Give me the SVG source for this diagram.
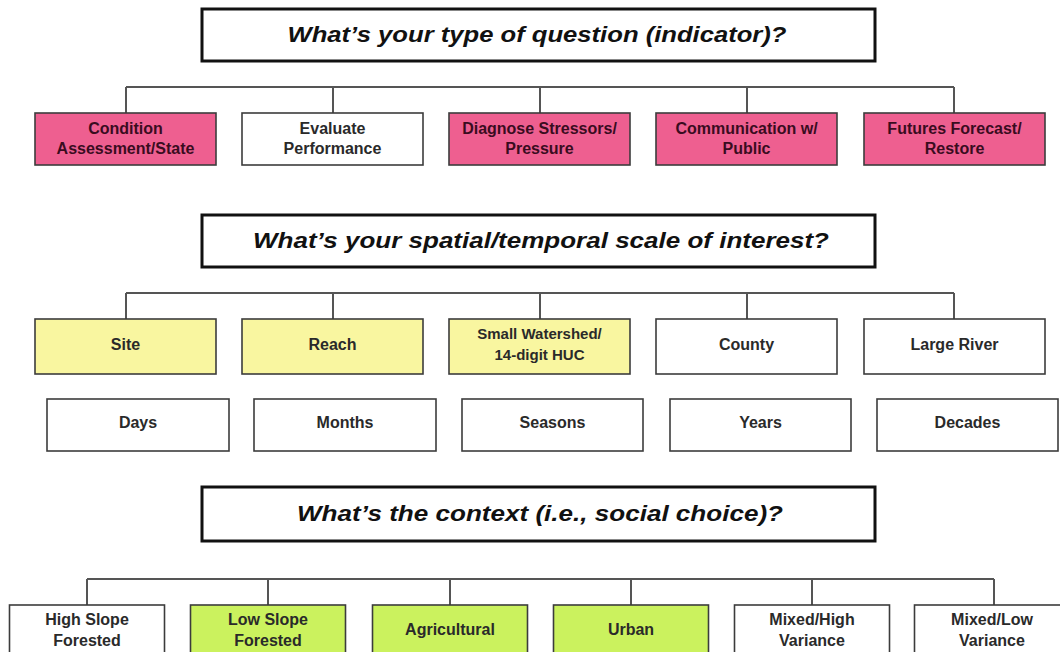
<svg xmlns="http://www.w3.org/2000/svg" width="1060" height="652" viewBox="0 0 1060 652">
<style>
.title rect{fill:#fff;stroke:#111;stroke-width:3}
.title text{font-family:"Liberation Sans",Arial,sans-serif;font-weight:bold;font-style:italic;font-size:22.5px;fill:#111;text-anchor:middle}
.box rect{stroke:#3c3c3c;stroke-width:1.6}
.box text{font-family:"Liberation Sans",Arial,sans-serif;font-weight:bold;font-size:16px;fill:#2a2a2a;text-anchor:middle}
.pink rect{fill:#EE5F90}
.pink text{fill:#3a0c1f}
.white rect{fill:#fff}
.yellow rect{fill:#F9F6A0}
.green rect{fill:#CBF25E}
.conn{fill:none;stroke:#555;stroke-width:2}
</style>
<rect width="1060" height="652" fill="#fff"/>

<g id="connectors" class="conn">
<path d="M126,87H954M126,87V113M333,87V113M540,87V113M747,87V113M954,87V113"/>
<path d="M126,293H954M126,293V319M333,293V319M540,293V319M747,293V319M954,293V319"/>
<path d="M87,579H994M87,579V605M268,579V605M450,579V605M631,579V605M812,579V605M994,579V605"/>
</g>

<g id="title1" class="title"><rect x="202" y="9" width="673" height="52"/><text x="537" y="42" textLength="499" lengthAdjust="spacingAndGlyphs">What’s your type of question (indicator)?</text></g>

<g id="q1" class="box pink"><rect x="35" y="113" width="181" height="52"/><text x="125.5" y="134">Condition</text><text x="125.5" y="154">Assessment/State</text></g>
<g id="q2" class="box white"><rect x="242" y="113" width="181" height="52"/><text x="332.5" y="134">Evaluate</text><text x="332.5" y="154">Performance</text></g>
<g id="q3" class="box pink"><rect x="449" y="113" width="181" height="52"/><text x="539.5" y="134">Diagnose Stressors/</text><text x="539.5" y="154">Pressure</text></g>
<g id="q4" class="box pink"><rect x="656" y="113" width="181" height="52"/><text x="746.5" y="134">Communication w/</text><text x="746.5" y="154">Public</text></g>
<g id="q5" class="box pink"><rect x="864" y="113" width="181" height="52"/><text x="954.5" y="134">Futures Forecast/</text><text x="954.5" y="154">Restore</text></g>

<g id="title2" class="title"><rect x="202" y="215" width="673" height="52"/><text x="541" y="248" textLength="576" lengthAdjust="spacingAndGlyphs">What’s your spatial/temporal scale of interest?</text></g>

<g id="s1" class="box yellow"><rect x="35" y="319" width="181" height="55"/><text x="125.5" y="350">Site</text></g>
<g id="s2" class="box yellow"><rect x="242" y="319" width="181" height="55"/><text x="332.5" y="350">Reach</text></g>
<g id="s3" class="box yellow"><rect x="449" y="319" width="181" height="55"/><text x="539.5" y="339" style="font-size:15px">Small Watershed/</text><text x="539.5" y="360" style="font-size:15px">14-digit HUC</text></g>
<g id="s4" class="box white"><rect x="656" y="319" width="181" height="55"/><text x="746.5" y="350">County</text></g>
<g id="s5" class="box white"><rect x="864" y="319" width="181" height="55"/><text x="954.5" y="350">Large River</text></g>

<g id="t1" class="box white"><rect x="47" y="399" width="182" height="52"/><text x="138" y="428">Days</text></g>
<g id="t2" class="box white"><rect x="254" y="399" width="182" height="52"/><text x="345" y="428">Months</text></g>
<g id="t3" class="box white"><rect x="462" y="399" width="181" height="52"/><text x="552.5" y="428">Seasons</text></g>
<g id="t4" class="box white"><rect x="670" y="399" width="181" height="52"/><text x="760.5" y="428">Years</text></g>
<g id="t5" class="box white"><rect x="877" y="399" width="181" height="52"/><text x="967.5" y="428">Decades</text></g>

<g id="title3" class="title"><rect x="202" y="487" width="673" height="54"/><text x="540" y="521" textLength="486" lengthAdjust="spacingAndGlyphs">What’s the context (i.e., social choice)?</text></g>

<g id="c1" class="box white"><rect x="9.5" y="605" width="155" height="60"/><text x="87" y="625">High Slope</text><text x="87" y="646">Forested</text></g>
<g id="c2" class="box green"><rect x="190.5" y="605" width="155" height="60"/><text x="268" y="625">Low Slope</text><text x="268" y="646">Forested</text></g>
<g id="c3" class="box green"><rect x="372.5" y="605" width="155" height="60"/><text x="450" y="635">Agricultural</text></g>
<g id="c4" class="box green"><rect x="553.5" y="605" width="155" height="60"/><text x="631" y="635">Urban</text></g>
<g id="c5" class="box white"><rect x="734.5" y="605" width="155" height="60"/><text x="812" y="625">Mixed/High</text><text x="812" y="646">Variance</text></g>
<g id="c6" class="box white"><rect x="914.5" y="605" width="155" height="60"/><text x="992" y="625">Mixed/Low</text><text x="992" y="646">Variance</text></g>
</svg>
